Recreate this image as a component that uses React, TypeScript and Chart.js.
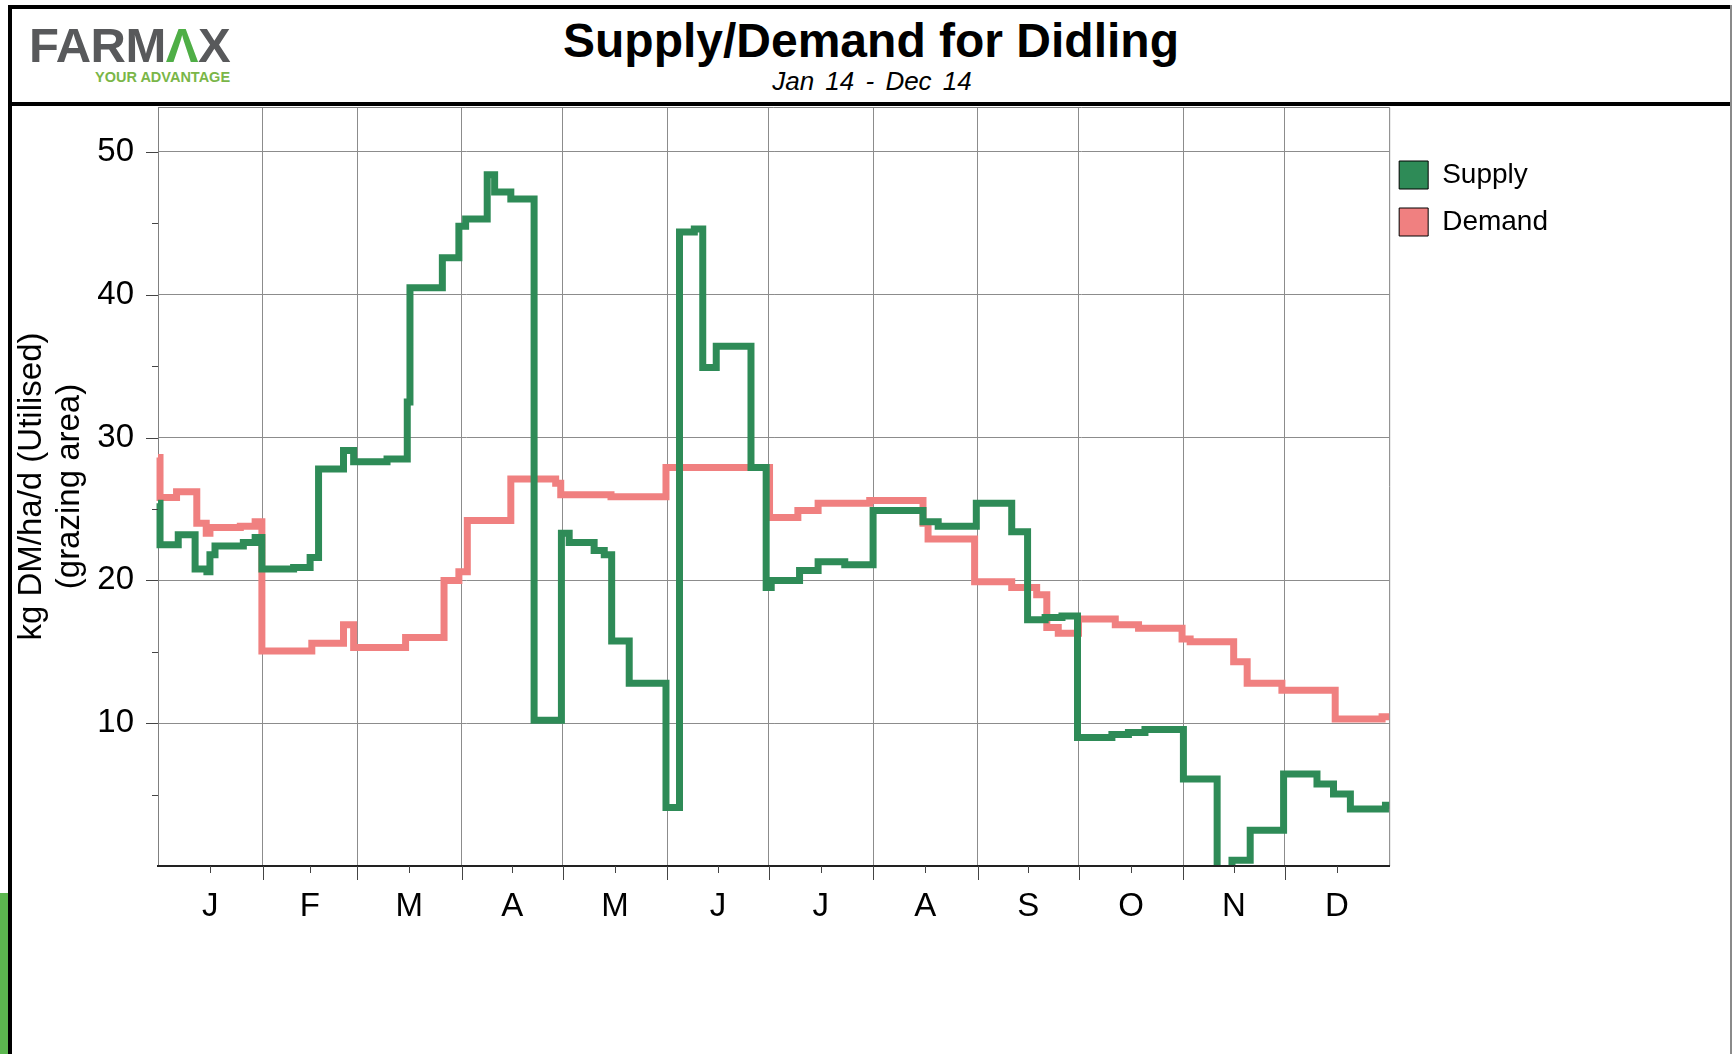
import React, { useEffect, useRef } from 'react';
import { Chart, registerables } from 'chart.js';

Chart.register(...registerables);

// Day-of-year (0 = 1 Jan) at which each step starts, and the step value (kg DM/ha/d)
const supplyDays = [0, 0.6, 6, 11, 14.5, 15.4, 16.9, 25.3, 28.8, 30.8, 40.2, 45.1, 47.6, 55, 58, 67.9, 73.9, 74.7, 84.3, 89.2, 91.2, 97.6, 99.8, 104.6, 111.5, 119.6, 121.9, 129.3, 132.3, 134.5, 139.7, 150.6, 154.6, 159, 161.5, 165.5, 175.8, 180.3, 181.8, 190.2, 195.7, 203.6, 212, 226.8, 231.3, 242.6, 253.1, 257.8, 263, 268, 272.6, 282.8, 287.7, 292.6, 304, 314, 318.4, 323.8, 333.7, 343.6, 348.5, 353.5, 363.9, 365];
const supplyValues = [25.4, 22.5, 23.2, 20.8, 20.6, 21.8, 22.4, 22.65, 23.0, 20.8, 20.9, 21.6, 27.8, 29.1, 28.3, 28.5, 32.5, 40.5, 42.6, 44.8, 45.3, 48.4, 47.2, 46.7, 10.2, 23.3, 22.65, 22.1, 21.8, 15.75, 12.8, 4.1, 44.4, 44.6, 34.9, 36.4, 27.9, 19.5, 20.0, 20.7, 21.3, 21.1, 24.9, 24.1, 23.8, 25.4, 23.4, 17.25, 17.4, 17.5, 9.0, 9.2, 9.35, 9.55, 6.1, -3, 0.4, 2.5, 6.45, 5.75, 5.05, 4.0, 4.25, 4.25];

const demandDays = [0, 0.6, 5.5, 11.5, 14.3, 15.4, 24.4, 28.8, 30.8, 45.6, 55, 58, 73.4, 84.8, 89.2, 91.7, 104.6, 117.9, 119.4, 134.3, 150.6, 181.3, 189.7, 195.7, 211, 226.8, 228.3, 242.1, 253.1, 260.5, 263.5, 266.9, 272.9, 283.8, 290.7, 303.6, 306, 318.9, 322.9, 333.2, 349, 362.9, 365];
const demandValues = [28.6, 25.8, 26.2, 24.0, 23.3, 23.7, 23.8, 24.1, 15.05, 15.6, 16.9, 15.3, 16.0, 20.0, 20.6, 24.2, 27.1, 26.8, 26.0, 25.85, 27.9, 24.4, 24.9, 25.4, 25.6, 24.0, 22.9, 19.9, 19.5, 19.0, 16.7, 16.3, 17.3, 16.9, 16.65, 15.9, 15.7, 14.3, 12.8, 12.3, 10.3, 10.45, 10.45];

const monthStarts = [0, 31, 59, 90, 120, 151, 181, 212, 243, 273, 304, 334, 365];
const monthLabels = ['J', 'F', 'M', 'A', 'M', 'J', 'J', 'A', 'S', 'O', 'N', 'D'];

const yMajorTicks = [10, 20, 30, 40, 50];
const yMinorTicks = [5, 15, 25, 35, 45];

const seriesNames = ['Supply', 'Demand'];
const seriesColors = ['#2e8b57', '#f08080'];

const FONT = "'Liberation Sans', Arial, Helvetica, sans-serif";

export default function App() {
  const ref = useRef<HTMLCanvasElement>(null);

  useEffect(() => {
    document.body.style.margin = '0';
    const canvas = ref.current;
    if (!canvas) return;

    const mids = monthStarts.slice(0, 12).map((s, i) => (s + monthStarts[i + 1]) / 2);
    const boundaries = monthStarts.slice(1, 12);

    const framePlugin = {
      id: 'frame',
      beforeDatasetsDraw(chart: any) {
        const { ctx, chartArea } = chart;
        const { left, right, top, bottom } = chartArea;
        ctx.save();
        ctx.strokeStyle = '#808080';
        ctx.lineWidth = 1;
        ctx.beginPath();
        ctx.moveTo(left, top + 0.5);
        ctx.lineTo(right + 0.5, top + 0.5);
        ctx.lineTo(right + 0.5, bottom);
        ctx.stroke();
        ctx.restore();
      },
    };

    const tickMarksPlugin = {
      id: 'tickMarks',
      afterDraw(chart: any) {
        const { ctx, chartArea } = chart;
        const xs = chart.scales.x;
        const ys = chart.scales.y;
        const { left, bottom } = chartArea;
        ctx.save();
        ctx.strokeStyle = '#444';
        ctx.lineWidth = 1;
        const seg = (x1: number, y1: number, x2: number, y2: number) => {
          ctx.beginPath();
          ctx.moveTo(x1, y1);
          ctx.lineTo(x2, y2);
          ctx.stroke();
        };
        boundaries.forEach((d) => {
          const px = Math.round(xs.getPixelForValue(d)) + 0.5;
          seg(px, bottom, px, bottom + 14);
        });
        mids.forEach((d) => {
          const px = Math.round(xs.getPixelForValue(d)) + 0.5;
          seg(px, bottom, px, bottom + 7);
        });
        yMajorTicks.forEach((v) => {
          const py = Math.round(ys.getPixelForValue(v)) + 0.5;
          seg(left - 12, py, left, py);
        });
        yMinorTicks.forEach((v) => {
          const py = Math.round(ys.getPixelForValue(v)) + 0.5;
          seg(left - 6, py, left, py);
        });
        ctx.restore();
      },
    };

    const legendShiftPlugin = {
      id: 'legendShift',
      afterLayout(chart: any) {
        const l = chart.legend;
        if (l) {
          l.left -= 9;
          l.right -= 9;
        }
      },
    };

    const makeData = (days: number[], values: number[]) =>
      days.map((d, i) => ({ x: d, y: values[i] }));

    const chart = new Chart(canvas, {
      type: 'line',
      data: {
        datasets: [
          {
            label: seriesNames[0],
            data: makeData(supplyDays, supplyValues),
            borderColor: seriesColors[0],
            backgroundColor: seriesColors[0],
            borderWidth: 7,
            stepped: true,
            pointRadius: 0,
            fill: false,
            clip: { left: 5, top: 5, right: 5, bottom: 0 },
          },
          {
            label: seriesNames[1],
            data: makeData(demandDays, demandValues),
            borderColor: seriesColors[1],
            backgroundColor: seriesColors[1],
            borderWidth: 7,
            stepped: true,
            pointRadius: 0,
            fill: false,
            clip: { left: 5, top: 5, right: 5, bottom: 0 },
          },
        ],
      } as any,
      options: {
        responsive: false,
        maintainAspectRatio: false,
        animation: false,
        layout: { padding: { top: 0, left: 0, right: 0, bottom: 128 } },
        plugins: {
          tooltip: { enabled: false },
          legend: {
            position: 'right',
            align: 'start',
            maxWidth: 180,
            title: {
              display: true,
              text: '',
              font: { size: 10, lineHeight: 1 },
              padding: { top: 25, bottom: 0 },
            },
            labels: {
              boxWidth: 29,
              boxHeight: 28,
              padding: 19,
              color: '#000',
              font: { family: FONT, size: 28 },
              generateLabels: (c: any) =>
                (Chart.defaults.plugins.legend.labels as any).generateLabels(c).map((it: any) => ({
                  ...it,
                  fillStyle: seriesColors[it.datasetIndex],
                  strokeStyle: '#000',
                  lineWidth: 1,
                })),
            },
          },
        },
        scales: {
          x: {
            type: 'linear',
            min: 0,
            max: 365,
            afterBuildTicks: (s: any) => {
              s.ticks = [...boundaries, ...mids].sort((a, b) => a - b).map((v) => ({ value: v }));
            },
            afterFit: (s: any) => {
              s.height = 60;
              s.paddingLeft = 0;
              s.paddingRight = 0;
            },
            ticks: {
              autoSkip: false,
              maxRotation: 0,
              minRotation: 0,
              padding: 21,
              color: '#000',
              font: { family: FONT, size: 33 },
              callback: (v: any) => {
                const i = mids.indexOf(Number(v));
                return i >= 0 ? monthLabels[i] : '';
              },
            },
            grid: {
              drawTicks: false,
              lineWidth: 1,
              color: (ctx: any) =>
                ctx.tick && boundaries.includes(ctx.tick.value) ? '#8c8c8c' : 'rgba(0,0,0,0)',
            },
            border: { display: true, color: '#222', width: 2, z: 1 },
          },
          y: {
            min: 0,
            max: 53.15,
            afterBuildTicks: (s: any) => {
              s.ticks = [...yMinorTicks, ...yMajorTicks].sort((a, b) => a - b).map((v) => ({ value: v }));
            },
            afterFit: (s: any) => {
              s.width = 146;
              s.paddingTop = 0;
              s.paddingBottom = 0;
            },
            ticks: {
              padding: 24,
              color: '#000',
              font: { family: FONT, size: 33 },
              callback: (v: any) => (yMajorTicks.includes(Number(v)) ? String(v) : ''),
            },
            grid: {
              drawTicks: false,
              lineWidth: 1,
              color: (ctx: any) =>
                ctx.tick && yMajorTicks.includes(ctx.tick.value) ? '#8c8c8c' : 'rgba(0,0,0,0)',
            },
            border: { display: true, color: '#808080', width: 1 },
            title: {
              display: true,
              text: ['kg DM/ha/d (Utilised)', '(grazing area)'],
              color: '#000',
              font: { family: FONT, size: 33, lineHeight: 1.15 },
              padding: { top: 1, bottom: 0 },
            },
          },
        },
      } as any,
      plugins: [framePlugin, tickMarksPlugin, legendShiftPlugin],
    });

    return () => chart.destroy();
  }, []);

  const abs = (s: React.CSSProperties): React.CSSProperties => ({ position: 'absolute', ...s });

  return (
    <div
      style={{
        position: 'absolute',
        left: 0,
        top: 0,
        width: 1732,
        height: 1054,
        background: '#fff',
        overflow: 'hidden',
        fontFamily: FONT,
      }}
    >
      {/* frame lines */}
      <div style={abs({ left: 8, top: 5, width: 1724, height: 4, background: '#000' })} />
      <div style={abs({ left: 8, top: 102, width: 1724, height: 4, background: '#000' })} />
      <div style={abs({ left: 8, top: 5, width: 4, height: 1049, background: '#000' })} />
      <div style={abs({ left: 1730, top: 5, width: 2, height: 1049, background: '#8a8a8a' })} />
      <div style={abs({ left: 0, top: 893, width: 8, height: 161, background: '#5cb74f' })} />

      {/* logo */}
      <div
        style={abs({
          left: 29,
          top: 21,
          fontSize: 49,
          lineHeight: '49px',
          fontWeight: 700,
          color: '#58595b',
          letterSpacing: '-0.5px',
          whiteSpace: 'nowrap',
        })}
      >
        FARM<span style={{ color: '#4fae46' }}>Λ</span>X
      </div>
      <div
        style={abs({
          left: 95,
          top: 70,
          fontSize: 14.5,
          lineHeight: '14px',
          fontWeight: 700,
          color: '#7ab648',
          whiteSpace: 'nowrap',
        })}
      >
        YOUR ADVANTAGE
      </div>

      {/* title */}
      <div
        style={abs({
          left: 0,
          top: 17,
          width: 1742,
          textAlign: 'center',
          fontSize: 48,
          lineHeight: '48px',
          fontWeight: 700,
          color: '#000',
          whiteSpace: 'nowrap',
        })}
      >
        Supply/Demand for Didling
      </div>
      <div
        style={abs({
          left: 0,
          top: 68,
          width: 1744,
          textAlign: 'center',
          fontSize: 26,
          lineHeight: '26px',
          fontStyle: 'italic',
          wordSpacing: '4px',
          color: '#000',
          whiteSpace: 'nowrap',
        })}
      >
        Jan 14 - Dec 14
      </div>

      <canvas
        ref={ref}
        width={1555}
        height={947}
        style={abs({ left: 12, top: 107, width: 1555, height: 947 })}
      />
    </div>
  );
}
